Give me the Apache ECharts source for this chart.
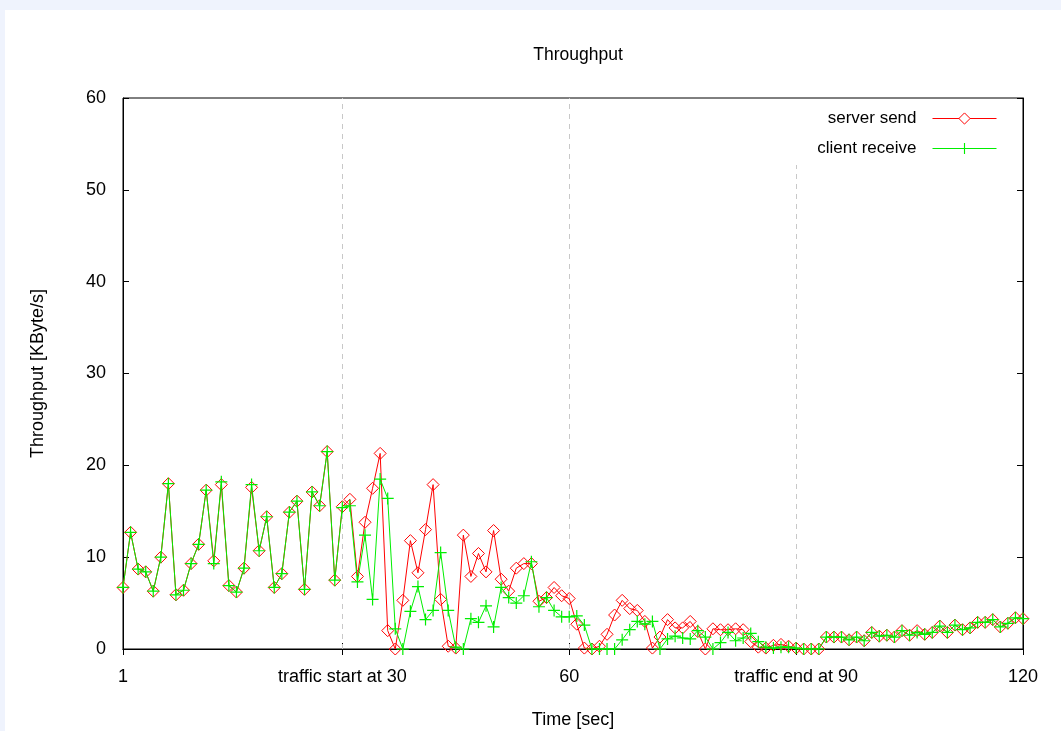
<!DOCTYPE html>
<html>
<head>
<meta charset="utf-8">
<script src="https://cdn.jsdelivr.net/npm/echarts@6/dist/echarts.min.js"></script>
<style>
  html, body { margin: 0; padding: 0; background: #eff3fd; width: 1061px; height: 731px; overflow: hidden; }
  #panel { position: absolute; left: 5px; top: 10px; right: 0; bottom: 0; background: #ffffff; }
  #chart { position: absolute; left: 0; top: 0; width: 1061px; height: 731px; }
</style>
</head>
<body>
<div id="panel"></div>
<div id="chart"></div>
<script>
const seconds = [1,2,3,4,5,6,7,8,9,10,11,12,13,14,15,16,17,18,19,20,
  21,22,23,24,25,26,27,28,29,30,31,32,33,34,35,36,37,38,39,40,
  41,42,43,44,45,46,47,48,49,50,51,52,53,54,55,56,57,58,59,60,
  61,62,63,64,65,66,67,68,69,70,71,72,73,74,75,76,77,78,79,80,
  81,82,83,84,85,86,87,88,89,90,91,92,93,94,95,96,97,98,99,100,
  101,102,103,104,105,106,107,108,109,110,111,112,113,114,115,116,117,118,119,120];

const serverSend = [
  6.7,12.7,8.7,8.4,6.3,10.0,18.0,5.9,6.4,9.3,
  11.4,17.3,9.6,17.9,6.9,6.2,8.8,17.6,10.7,14.4,
  6.7,8.2,14.9,16.1,6.5,17.1,15.6,21.5,7.5,15.5,
  16.3,7.9,13.8,17.5,21.3,2.0,0.0,5.3,11.8,8.3,
  13.0,17.9,5.4,0.3,0.1,12.4,7.9,10.4,8.4,12.9,
  7.6,6.3,8.8,9.3,9.3,5.2,5.6,6.7,5.8,5.5,
  2.7,0.1,0.0,0.3,1.6,3.7,5.3,4.4,4.2,3.0,
  0.1,1.3,3.2,2.3,2.3,3.0,1.9,0.0,2.2,2.1,
  2.1,2.2,2.1,0.8,0.2,0.1,0.4,0.5,0.3,0.1,
  0.0,0.0,0.0,1.3,1.3,1.3,1.0,1.3,0.9,1.8,
  1.4,1.5,1.3,2.0,1.5,2.0,1.6,1.8,2.5,1.8,
  2.6,2.1,2.3,2.9,2.9,3.2,2.4,2.8,3.4,3.3];

const clientReceive = [
  6.7,12.7,8.7,8.4,6.3,10.0,18.0,5.9,6.4,9.3,
  11.4,17.3,9.3,18.2,6.9,6.2,8.8,17.9,10.7,14.4,
  6.7,8.2,14.9,16.1,6.5,17.1,15.6,21.5,7.5,15.4,
  15.6,7.3,12.4,5.4,18.5,16.4,2.2,0.0,4.1,6.8,
  3.2,4.2,10.5,4.2,0.2,0.0,3.3,2.9,4.7,2.4,
  6.7,5.6,5.0,5.8,9.5,4.6,5.6,4.2,3.5,3.5,
  3.6,2.6,0.0,0.0,0.0,0.0,1.0,2.1,3.0,2.7,
  3.0,0.0,1.1,1.4,1.2,1.1,2.0,1.3,0.0,0.7,
  1.8,0.9,1.2,1.7,0.8,0.2,0.1,0.2,0.2,0.1,
  0.0,0.0,0.0,1.3,1.3,1.3,1.0,1.3,0.9,1.8,
  1.4,1.5,1.3,2.0,1.5,1.8,1.6,1.8,2.5,1.8,
  2.6,2.1,2.3,2.9,2.9,3.2,2.4,2.8,3.4,3.3];

const tickLabels = { 1: '1', 30: 'traffic start at 30', 60: '60', 90: 'traffic end at 90', 120: '120' };
const tickSeconds = [1, 30, 60, 90, 120];
const markerSeconds = [30, 60, 90];
const yTicks = { min: 0, max: 60, step: 10 };

const FONT = 'Liberation Sans, Arial, sans-serif';
const RED = '#ff0000';
const GREEN = '#00ee00';
const HOLLOW = 'rgba(255,255,255,0)';
const plusPath = 'path://M0,4.5L10,4.5L10,5.5L0,5.5Z M4.5,0L5.5,0L5.5,10L4.5,10Z';

const isTick = (idx) => tickSeconds.indexOf(seconds[idx]) >= 0;
const idxOf = (s) => seconds.indexOf(s);

const chart = echarts.init(document.getElementById('chart'), null, { renderer: 'canvas' });

const gridLines = markerSeconds.map(s => [
  { coord: [idxOf(s), yTicks.min] },
  { coord: [idxOf(s), s === 90 ? 52.7 : yTicks.max] }
]);

chart.setOption({
  backgroundColor: 'transparent',
  animation: false,
  color: [RED, GREEN],
  textStyle: { fontFamily: FONT },
  title: {
    text: 'Throughput',
    left: 573, top: 41,
    textAlign: 'center',
    textStyle: { fontSize: 17.5, fontWeight: 'normal', color: '#000', fontFamily: FONT }
  },
  legend: {
    orient: 'vertical',
    right: 64, top: 110,
    padding: 0,
    align: 'right',
    itemWidth: 64, itemHeight: 14, itemGap: 13,
    textStyle: { fontSize: 17, color: '#000', fontFamily: FONT, padding: [0, 11, 0, 0] },
    data: [
      { name: 'server send', itemStyle: { color: '#ffffff', borderColor: RED, borderWidth: 1 }, lineStyle: { color: RED, width: 1 } },
      { name: 'client receive', itemStyle: { color: GREEN }, lineStyle: { color: GREEN, width: 1 } }
    ]
  },
  grid: {
    left: 123, right: 38, top: 98, bottom: 82,
    outerBoundsMode: 'none',
    containLabel: false,
    show: true, borderColor: '#000', borderWidth: 1, backgroundColor: 'transparent'
  },
  xAxis: [{
    type: 'category',
    data: seconds,
    boundaryGap: false,
    name: 'Time [sec]',
    nameLocation: 'middle',
    nameGap: 62,
    nameTextStyle: { fontSize: 18, color: '#000', fontFamily: FONT },
    axisLine: { show: true, lineStyle: { color: '#000', width: 1 } },
    axisTick: { show: true, inside: true, length: 6, interval: (i) => isTick(i), lineStyle: { color: '#000' } },
    axisLabel: {
      interval: (i) => isTick(i),
      formatter: (v) => tickLabels[v] || '',
      margin: 19, fontSize: 18, color: '#000', fontFamily: FONT, showMinLabel: true, showMaxLabel: true
    },
    splitLine: { show: false }
  }, {
    type: 'category',
    data: seconds,
    boundaryGap: false,
    position: 'top',
    axisLine: { show: true, lineStyle: { color: '#000', width: 1 } },
    axisTick: { show: true, inside: true, length: 6, interval: (i) => isTick(i), lineStyle: { color: '#000' } },
    axisLabel: { show: false },
    splitLine: { show: false }
  }],
  yAxis: [{
    type: 'value',
    min: yTicks.min, max: yTicks.max, interval: yTicks.step,
    name: 'Throughput [KByte/s]',
    nameLocation: 'middle',
    nameGap: 76,
    nameTextStyle: { fontSize: 18, color: '#000', fontFamily: FONT },
    axisLine: { show: true, lineStyle: { color: '#000', width: 1 } },
    axisTick: { show: true, inside: true, length: 6, lineStyle: { color: '#000' } },
    axisLabel: { margin: 17, fontSize: 18, color: '#000', fontFamily: FONT },
    splitLine: { show: false }
  }, {
    type: 'value',
    position: 'right',
    min: yTicks.min, max: yTicks.max, interval: yTicks.step,
    axisLine: { show: true, lineStyle: { color: '#000', width: 1 } },
    axisTick: { show: true, inside: true, length: 6, lineStyle: { color: '#000' } },
    axisLabel: { show: false },
    splitLine: { show: false }
  }],
  series: [{
    name: 'server send',
    type: 'line',
    data: serverSend,
    symbol: 'diamond',
    symbolSize: 12,
    showAllSymbol: true,
    lineStyle: { color: RED, width: 1 },
    itemStyle: { color: HOLLOW, borderColor: RED, borderWidth: 1, opacity: 1 },
    z: 2,
    markLine: {
      silent: true,
      symbol: ['none', 'none'],
      label: { show: false },
      lineStyle: { color: '#c8c8c8', type: [5, 5], width: 1 },
      data: gridLines,
      z: 1
    }
  }, {
    name: 'client receive',
    type: 'line',
    data: clientReceive,
    symbol: plusPath,
    symbolSize: 12,
    showAllSymbol: true,
    lineStyle: { color: GREEN, width: 1 },
    itemStyle: { color: GREEN, borderWidth: 0 },
    z: 3
  }]
});
</script>
</body>
</html>
